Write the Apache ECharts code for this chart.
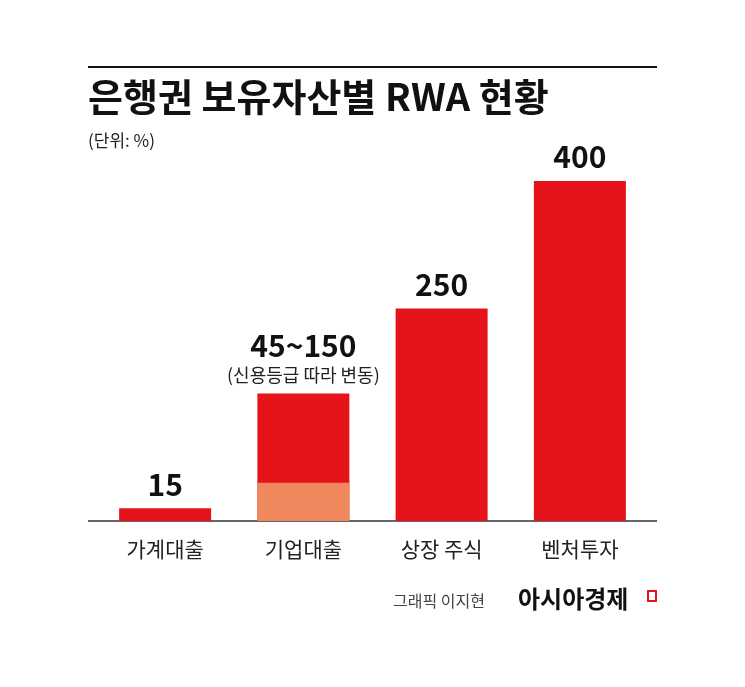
<!DOCTYPE html>
<html><head><meta charset="utf-8">
<script src="https://cdn.jsdelivr.net/npm/echarts@6/dist/echarts.min.js"></script>
<style>html,body{margin:0;padding:0;background:#fff}#c{width:745px;height:687px}</style>
</head><body><div id="c"></div>
<script>
const categories = ['가계대출', '기업대출', '상장 주식', '벤처투자'];
const maxValues = [15, 150, 250, 400];
const minValues = [null, 45, null, null];
const valueLabels = ['15', '45~150', '250', '400'];
const notes = ['', '(신용등급 따라 변동)', '', ''];
const F = '"Noto Sans CJK KR", sans-serif';
const chart = echarts.init(document.getElementById('c'));
chart.setOption({
  backgroundColor: '#fff',
  animation: false,
  grid: {left: 96, right: 96, top: 181, bottom: 166},
  xAxis: {type: 'category', data: categories, axisLine: {show: false}, axisTick: {show: false},
    axisLabel: {fontFamily: F, fontSize: 21, color: '#222', margin: 18}},
  yAxis: {type: 'value', min: 0, max: 400, show: false},
  series: [
    {type: 'bar', data: maxValues, barWidth: 92, itemStyle: {color: '#e5141b'},
      label: {show: true, position: 'top', distance: 6, fontFamily: F, rich: {
        v: {fontSize: 30, fontWeight: 'bold', color: '#111', lineHeight: 36, align: 'center'},
        n: {fontSize: 18, color: '#222', lineHeight: 24, align: 'center'}},
        formatter: p => notes[p.dataIndex] ? '{v|' + valueLabels[p.dataIndex] + '}\n{n|' + notes[p.dataIndex] + '}' : '{v|' + valueLabels[p.dataIndex] + '}'}},
    {type: 'bar', data: minValues, barWidth: 92, barGap: '-100%', itemStyle: {color: '#f0885e'}}
  ],
  graphic: [
    {type: 'line', shape: {x1: 88, y1: 67, x2: 657, y2: 67}, style: {stroke: '#111', lineWidth: 2}},
    {type: 'line', shape: {x1: 88, y1: 521, x2: 657, y2: 521}, style: {stroke: '#333', lineWidth: 1.5}},
    {type: 'text', left: 88, top: 78, style: {text: '은행권 보유자산별 RWA 현황', font: 'bold 38px ' + F, fill: '#111'}},
    {type: 'text', left: 88, top: 132, style: {text: '(단위: %)', font: '17px ' + F, fill: '#222'}},
    {type: 'text', left: 393, top: 593, style: {text: '그래픽 이지현', font: '16px ' + F, fill: '#444'}},
    {type: 'text', left: 518, top: 587, style: {text: '아시아경제', font: 'bold 24px ' + F, fill: '#111'}},
    {type: 'rect', shape: {x: 648, y: 591, width: 8, height: 10}, style: {fill: 'none', stroke: '#e5141b', lineWidth: 2}}
  ]
});
</script></body></html>
